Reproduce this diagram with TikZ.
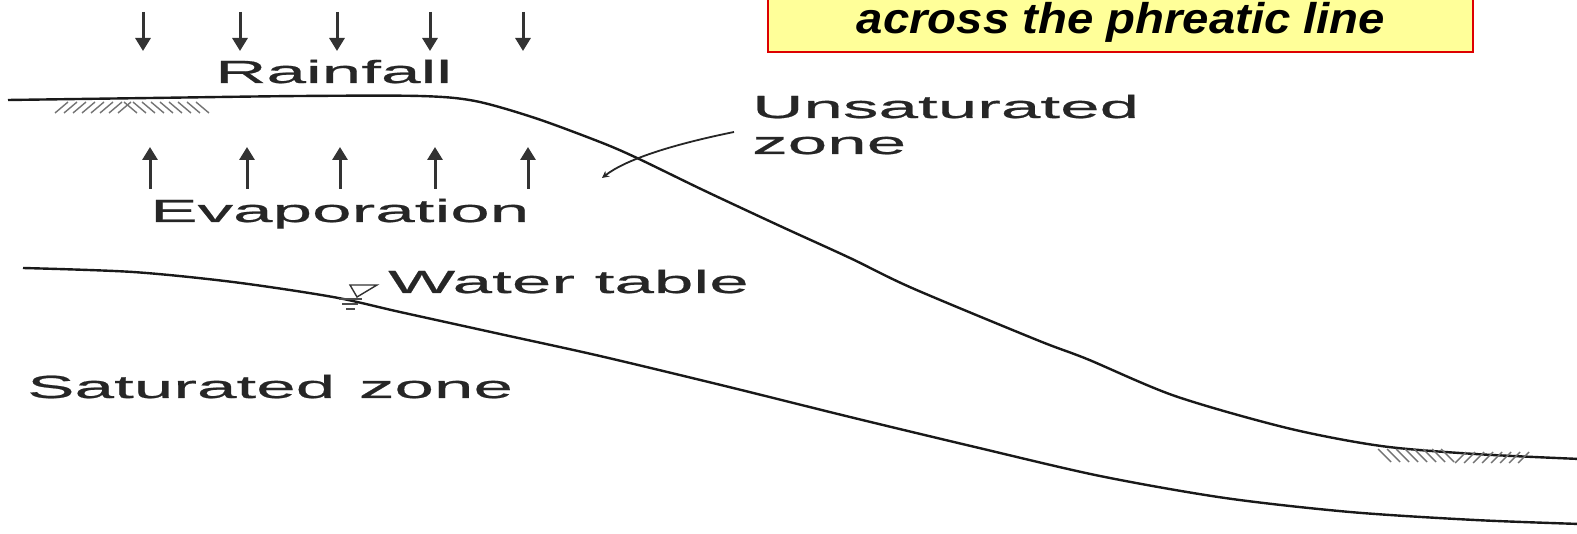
\documentclass[tikz,border=0pt]{standalone}
\usepackage{fontspec}
\setmainfont{Liberation Sans}
\newfontfamily\widefont[FakeStretch=2.22,FakeBold=0.6]{Liberation Sans}
\newfontfamily\headfont[FakeStretch=1.1]{Liberation Sans}
\usetikzlibrary{arrows.meta}
\definecolor{notefill}{HTML}{FFFF99}
\definecolor{noteedge}{HTML}{DD0000}
\tikzset{
  lbl/.style={anchor=base west, inner sep=0pt, text=black!85, font=\widefont\fontsize{32}{36}\selectfont},
  profile/.style={line width=2.4pt, black!90},
  flux/.style={line width=3pt, black!80, -{Triangle[width=15pt,length=13pt]}},
  hatch/.style={line width=1.4pt, black!55}
}

\begin{document}
\begin{tikzpicture}[x=1pt,y=-1pt]
\useasboundingbox (0,0) rectangle (1577,534);
\clip (0,0) rectangle (1577,534);
\fill[white] (0,0) rectangle (1577,534);
\draw[line width=2.5pt, draw=noteedge, fill=notefill] (768,-10) rectangle (1473,52);
\node[anchor=base, inner sep=0pt, font=\headfont\bfseries\itshape\fontsize{43}{48}\selectfont] (note) at (1121,34) {across the phreatic line};
\draw[profile] plot[smooth, tension=0.5] coordinates {(8,100) (150,98) (300,96) (420,96) (475,101) (535,118) (600,142) (637,158) (703,190) (780,226) (850,258) (912,288) (1037,340) (1087,359) (1175,396) (1287,428) (1381,446) (1475,454) (1580,459)};
\draw[profile] plot[smooth, tension=0.5] coordinates {(23,268) (133,272) (233,282) (333,297) (400,312) (500,334) (600,356) (725,386) (850,417) (975,447) (1100,476) (1225,498) (1350,512) (1475,520) (1580,524)};
\foreach \x in {55,64,...,118} \draw[hatch] (\x,113) -- (\x+13,102);
\foreach \x in {124,133,...,196} \draw[hatch] (\x,102) -- (\x+13,113);
\foreach \x in {1378,1387,...,1446} \draw[hatch] (\x,449) -- (\x+13,462);
\foreach \x in {1455,1464,...,1520} \draw[hatch] (\x,463) -- (\x+11,452);
\foreach \x in {143,240,337,430,523} \draw[flux] (\x,12) -- (\x,51);
\foreach \x in {150,247,340,435,528} \draw[flux] (\x,189) -- (\x,147);
\node[lbl] (rain) at (215,83) {Rainfall};
\node[lbl] (evap) at (150,222) {Evaporation};
\node[lbl] (unsat) at (752,118) {Unsaturated};
\node[lbl] (zone) at (752,154) {zone};
\node[lbl] (wt) at (388,293) {Water table};
\node[lbl] (sat) at (27,398) {Saturated\hspace{4pt} zone};
\coordinate (lead) at (734,132);
\coordinate (pick) at (602,178);
\draw[line width=1.8pt, black!85, -{Stealth[width=7pt,length=7pt]}] (lead) .. controls (670,145) and (625,160) .. (pick);
\draw[line width=1.4pt, black!80] (350,285) -- (377,285) -- (357,297) -- cycle;
\draw[line width=1.3pt, black!70] (339,299) -- (362,299) (342,304) -- (358,304) (346,309) -- (355,309);
\end{tikzpicture}
\end{document}
